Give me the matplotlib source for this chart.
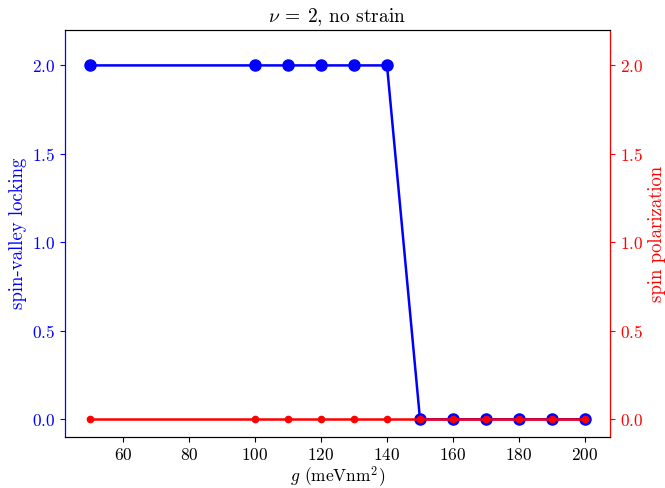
import matplotlib
matplotlib.use("Agg")
import matplotlib.pyplot as plt

# -------------------------------------------------
# DATA
# -------------------------------------------------

g_values = [50, 100, 110, 120, 130, 140, 150, 160, 170, 180, 190, 200]
spin_valley_locking = [2, 2, 2, 2, 2, 2, 0, 0, 0, 0, 0, 0]
spin_polarization = [0, 0, 0, 0, 0, 0, 0, 0, 0, 0, 0, 0]

# -------------------------------------------------
# STYLE
# -------------------------------------------------

plt.rcParams["font.family"] = "serif"
plt.rcParams["font.serif"] = ["cmr10"]
plt.rcParams["mathtext.fontset"] = "cm"
plt.rcParams["axes.formatter.use_mathtext"] = True
plt.rcParams["font.size"] = 12.5

# -------------------------------------------------
# PLOT
# -------------------------------------------------

fig, ax1 = plt.subplots(figsize=(6.65, 4.88), dpi=100)
fig.subplots_adjust(left=0.098, right=0.917, top=0.9385, bottom=0.1045)

ax1.plot(g_values, spin_valley_locking, color="blue", marker="o",
         markersize=8, linewidth=1.8)
ax1.set_ylim(-0.1, 2.2)
ax1.set_xlabel(r"$g$ (meVnm$^2$)", labelpad=1)
ax1.set_ylabel("spin-valley locking", color="blue", fontsize=13.5)
ax1.tick_params(axis="y", colors="blue")
ax1.spines["left"].set_color("blue")

ax2 = ax1.twinx()
ax2.plot(g_values, spin_polarization, color="red", marker="o",
         markersize=4.5, linewidth=1.8)
ax2.set_ylim(-0.1, 2.2)
ax2.set_ylabel("spin polarization", color="red", fontsize=13.5)
ax2.tick_params(axis="y", colors="red")
ax2.spines["right"].set_color("red")
ax2.spines["left"].set_color("blue")

ax1.set_title(r"$\nu\:=\:2$, no strain", fontsize=14)

fig.savefig("out.png", dpi=100)
